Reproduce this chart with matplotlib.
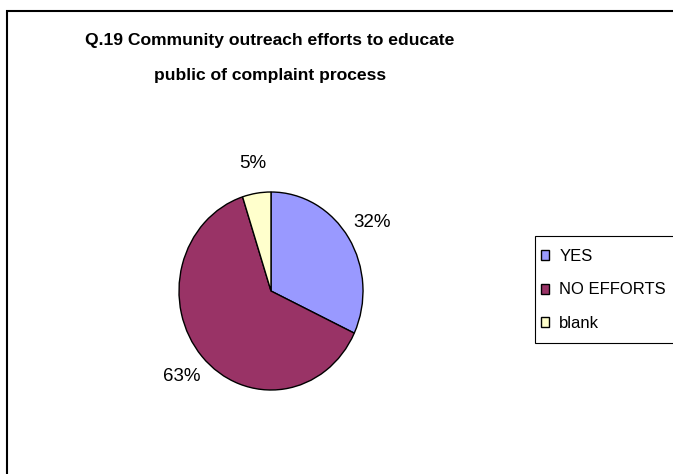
import matplotlib.pyplot as plt
from matplotlib.patches import Patch, Rectangle

plt.rcParams['font.family'] = ['Liberation Sans', 'DejaVu Sans']

# Survey answers for Q.19
answers = ["YES", "NO EFFORTS", "blank"]
shares = [32, 63, 5]
colors = ["#9999FF", "#993366", "#FFFFCC"]
title_lines = ["Q.19 Community outreach efforts to educate",
               "public of complaint process"]

W, H = 673, 474
fig = plt.figure(figsize=(W / 100, H / 100), dpi=100)

# Chart frame (runs off the right and bottom edges)
fig.patches.append(Rectangle((6.5 / W, -0.1), 1.2, 1.1 - 11.5 / H,
                             transform=fig.transFigure, fill=False,
                             edgecolor="black", linewidth=1.5, clip_on=False))

# Title, two lines
fig.text(270 / W, 1 - 45 / H, title_lines[0], ha="center", va="baseline",
         fontsize=12.6, fontweight="bold")
fig.text(270 / W, 1 - 80 / H, title_lines[1], ha="center", va="baseline",
         fontsize=12.6, fontweight="bold")

# Pie, drawn slightly narrower than tall
ax = fig.add_axes([179 / W, 84 / H, 184 / W, 198 / H])
wedges, texts, autotexts = ax.pie(
    shares, colors=colors, startangle=90, counterclock=False,
    autopct="%1.0f%%", pctdistance=1.3,
    wedgeprops=dict(edgecolor="black", linewidth=1.0),
    textprops=dict(fontsize=13.5))
ax.set_aspect("auto")
ax.set_xlim(-1, 1)
ax.set_ylim(-1, 1)
ax.axis("off")

# Legend box (also cut off at the right edge)
fig.patches.append(Rectangle((534.5 / W, 1 - 343 / H), 200 / W, 107 / H,
                             transform=fig.transFigure, facecolor="white",
                             edgecolor="black", linewidth=0.8, clip_on=False))
handles = [Patch(facecolor=c, edgecolor="black", linewidth=1.0) for c in colors]
leg = fig.legend(handles, answers, loc="upper left",
                 bbox_to_anchor=(535 / W, 1 - 243 / H), borderaxespad=0,
                 fontsize=12, frameon=False,
                 handlelength=0.5, handleheight=0.55, handletextpad=0.6,
                 labelspacing=1.12, borderpad=0.35)

fig.savefig("out.png", dpi=100)
